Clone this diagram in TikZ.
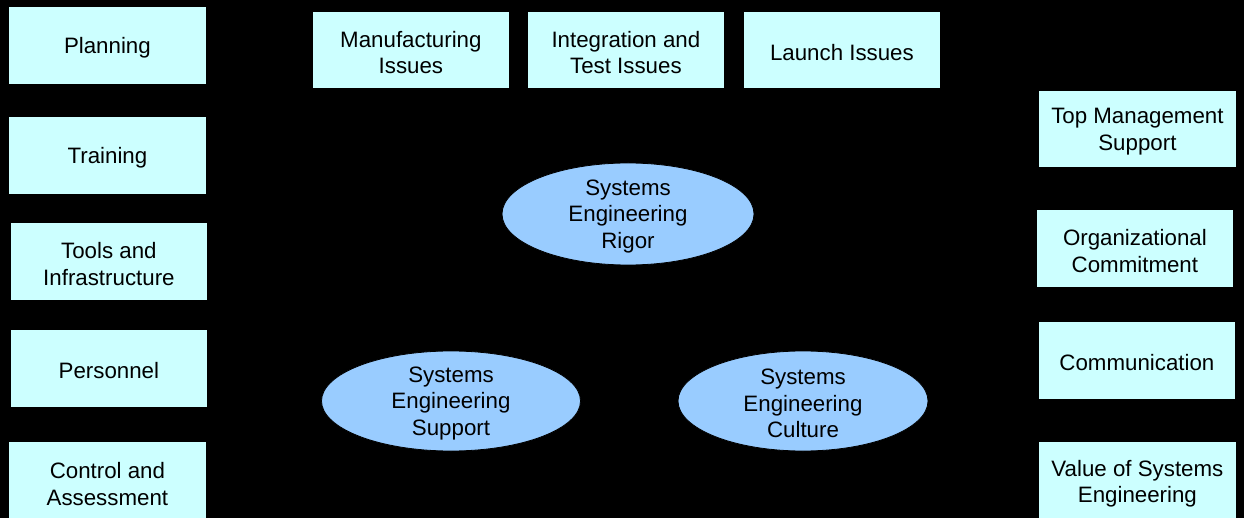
\documentclass[tikz,border=0pt]{standalone}
\usepackage{fontspec}
\setmainfont{Liberation Sans}
\usetikzlibrary{shapes.geometric}
\definecolor{boxfill}{HTML}{CCFFFF}
\definecolor{ellfill}{HTML}{99CCFF}
\tikzset{
  txt/.style={align=center, inner sep=0pt, font=\fontsize{22.3}{26.5}\selectfont, yshift=-2.5pt},
  factor/.style={draw=black, line width=0.8pt, fill=boxfill, inner sep=0pt, anchor=north west,
    label={[txt]center:#1}},
  theme/.style={ellipse, draw=black, line width=0.8pt, fill=ellfill, inner sep=0pt,
    label={[txt]center:#1}},
}
\begin{document}
\begin{tikzpicture}[x=1pt,y=-1pt]
\fill[black] (0,0) rectangle (1244,518);
\useasboundingbox (0,0) rectangle (1244,518);
% left column
\node[factor={Planning}, minimum width=198pt, minimum height=78pt] (plan) at (8,6) {};
\node[factor={Training}, minimum width=198pt, minimum height=78pt] (train) at (8,116) {};
\node[factor={Tools and\\Infrastructure}, minimum width=197pt, minimum height=78pt] (tools) at (10,222) {};
\node[factor={Personnel}, minimum width=197pt, minimum height=78pt] (pers) at (10,329) {};
\node[factor={Control and\\Assessment}, minimum width=198pt, minimum height=80pt] (ctrl) at (8,441) {};
% top row
\node[factor={Manufacturing\\Issues}, minimum width=197pt, minimum height=77pt] (manu) at (312,11) {};
\node[factor={Integration and\\Test Issues}, minimum width=197pt, minimum height=77pt] (integ) at (527,11) {};
\node[factor={Launch Issues}, minimum width=197pt, minimum height=77pt] (launch) at (743,11) {};
% right column
\node[factor={Top Management\\Support}, minimum width=198pt, minimum height=77pt] (top) at (1038,90) {};
\node[factor={Organizational\\Commitment}, minimum width=197pt, minimum height=78pt] (org) at (1036,209) {};
\node[factor={Communication}, minimum width=197pt, minimum height=78pt] (comm) at (1038,321) {};
\node[factor={Value of Systems\\Engineering}, minimum width=198pt, minimum height=80pt] (value) at (1038,441) {};
% ellipses
\node[theme={Systems\\Engineering\\Rigor}, minimum width=252pt, minimum height=102pt] (rigor) at (628,214) {};
\node[theme={Systems\\Engineering\\Support}, minimum width=259pt, minimum height=100pt] (support) at (451,401) {};
\node[theme={Systems\\Engineering\\Culture}, minimum width=250pt, minimum height=100pt] (culture) at (803,401) {};
\end{tikzpicture}
\end{document}
